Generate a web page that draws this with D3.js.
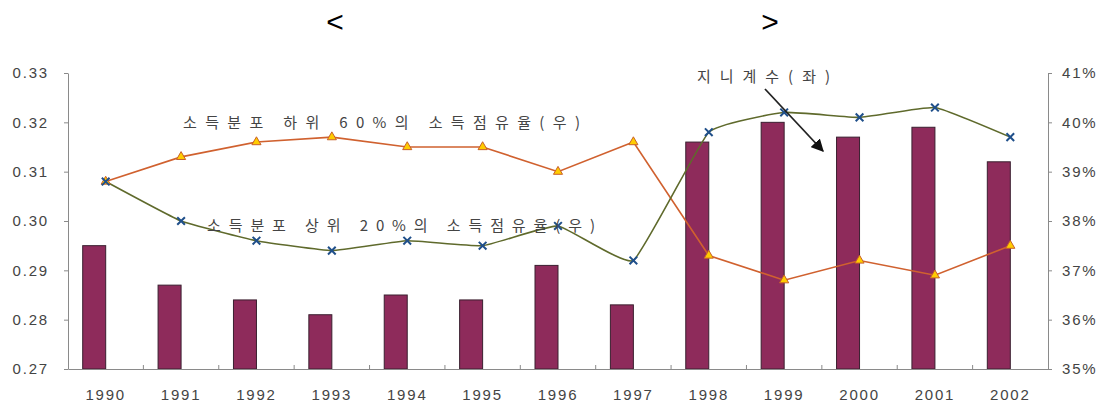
<!DOCTYPE html>
<html>
<head>
  <meta charset="utf-8">
  <script src="https://d3js.org/d3.v7.min.js"></script>
  <style>
    body { margin: 0; background: #fff; }
    .tick text { font-family: "Liberation Sans", Arial, sans-serif; font-size: 15px; fill: #444; letter-spacing: 1.8px; }
    .note { font-family: "Noto Sans CJK KR", sans-serif; font-size: 15px; fill: #444; }
  </style>
</head>
<body>
<svg id="chart"></svg>
<script>
  var width = 1108;
  var height = 403;

  // data
  const years = ["1990", "1991", "1992", "1993", "1994", "1995", "1996",
    "1997", "1998", "1999", "2000", "2001", "2002"];
  const gini = [0.295, 0.287, 0.284, 0.281, 0.285, 0.284, 0.291, 0.283,
    0.316, 0.320, 0.317, 0.319, 0.312];
  const bottom60 = [38.8, 39.3, 39.6, 39.7, 39.5, 39.5, 39.0, 39.6, 37.3, 36.8, 37.2, 36.9, 37.5];
  const top20 = [38.8, 38.0, 37.6, 37.4, 37.6, 37.5, 37.9, 37.2, 39.8, 40.2, 40.1, 40.3, 39.7];
  const leftTicks = [0.27, 0.28, 0.29, 0.30, 0.31, 0.32, 0.33];
  const rightTicks = [35, 36, 37, 38, 39, 40, 41];

  var svg = d3.select("#chart")
    .attr("width", width)
    .attr("height", height);

  var x = d3.scaleBand().domain(years).range([68, 1048]);
  var yL = d3.scaleLinear().domain([0.27, 0.33]).range([369, 73]);
  var yR = d3.scaleLinear().domain([35, 41]).range([369, 73]);
  var cx = d => x(d) + x.bandwidth() / 2;
  var barW = 23;

  // title (only the brackets survived in the original)
  svg.append("text").attr("x", 335).attr("y", 32).attr("text-anchor", "middle")
    .style("font-family", "Liberation Sans, Arial, sans-serif").style("font-size", "30px").text("<");
  svg.append("text").attr("x", 770).attr("y", 32).attr("text-anchor", "middle")
    .style("font-family", "Liberation Sans, Arial, sans-serif").style("font-size", "30px").text(">");

  // bars: gini coefficient, left axis
  svg.selectAll("rect.bar")
    .data(years).enter()
    .append("rect")
    .attr("class", "bar")
    .attr("x", d => cx(d) - barW)
    .attr("y", (d, i) => yL(gini[i]))
    .attr("width", barW)
    .attr("height", (d, i) => yL(0.27) - yL(gini[i]))
    .attr("fill", "#8e2b5b")
    .attr("stroke", "#3a2030")
    .attr("stroke-width", 1);

  // axes
  var axL = svg.append("g").attr("transform", "translate(68,0)")
    .call(d3.axisLeft(yL).tickValues(leftTicks).tickFormat(d3.format(".2f"))
      .tickSize(4).tickSizeOuter(0).tickPadding(15));
  var axR = svg.append("g").attr("transform", "translate(1048,0)")
    .call(d3.axisRight(yR).tickValues(rightTicks).tickFormat(d => d + "%")
      .tickSize(4).tickSizeOuter(0).tickPadding(10));
  var axB = svg.append("g").attr("transform", "translate(0,369)")
    .call(d3.axisBottom(x).tickSize(0).tickSizeOuter(0).tickPadding(20));
  [axL, axR, axB].forEach(a => {
    a.select(".domain").attr("stroke", "#8a8a8a");
    a.selectAll(".tick line").attr("stroke", "#8a8a8a");
  });

  // category boundary ticks on the bottom axis
  svg.selectAll("line.btick")
    .data(years.slice(1)).enter()
    .append("line")
    .attr("x1", d => x(d)).attr("x2", d => x(d))
    .attr("y1", 365).attr("y2", 370)
    .attr("stroke", "#8a8a8a");

  // lines, right axis
  var lineBottom = d3.line()
    .x((d, i) => cx(years[i]))
    .y(d => yR(d));
  var lineTop = d3.line()
    .x((d, i) => cx(years[i]))
    .y(d => yR(d))
    .curve(d3.curveCardinal.tension(0.65));

  svg.append("path").datum(bottom60)
    .attr("d", lineBottom)
    .attr("fill", "none")
    .attr("stroke", "#d0612f")
    .attr("stroke-width", 1.6);

  svg.append("path").datum(top20)
    .attr("d", lineTop)
    .attr("fill", "none")
    .attr("stroke", "#5f6a2c")
    .attr("stroke-width", 1.6);

  // triangle markers
  var tri = d3.symbol().type(d3.symbolTriangle).size(36);
  svg.selectAll("path.tri")
    .data(bottom60).enter()
    .append("path")
    .attr("class", "tri")
    .attr("d", tri)
    .attr("transform", (d, i) => "translate(" + cx(years[i]) + "," + yR(d) + ")")
    .attr("fill", "#ffcc00")
    .attr("stroke", "#c8602a")
    .attr("stroke-width", 1);

  // x markers
  var cross = d3.symbol().type(d3.symbolX).size(40);
  svg.selectAll("path.crs")
    .data(top20).enter()
    .append("path")
    .attr("class", "crs")
    .attr("d", cross)
    .attr("transform", (d, i) => "translate(" + cx(years[i]) + "," + yR(d) + ")")
    .attr("fill", "none")
    .attr("stroke", "#1f4f8a")
    .attr("stroke-width", 2);

  // annotations
  svg.append("text").attr("class", "note")
    .attr("x", 183).attr("y", 128)
    .attr("textLength", 397).attr("lengthAdjust", "spacing")
    .text("소득분포 하위 60%의 소득점유율(우)");
  svg.append("text").attr("class", "note")
    .attr("x", 207).attr("y", 231)
    .attr("textLength", 388).attr("lengthAdjust", "spacing")
    .text("소득분포 상위 20%의 소득점유율(우)");
  svg.append("text").attr("class", "note")
    .attr("x", 697).attr("y", 82)
    .attr("textLength", 133).attr("lengthAdjust", "spacing")
    .text("지니계수(좌)");

  svg.append("defs").append("marker")
    .attr("id", "arrow")
    .attr("viewBox", "0 0 10 10")
    .attr("refX", 9).attr("refY", 5)
    .attr("markerWidth", 7).attr("markerHeight", 7)
    .attr("markerUnits", "strokeWidth")
    .attr("orient", "auto")
    .append("path").attr("d", "M0,0 L10,5 L0,10 z").attr("fill", "#111");

  svg.append("line")
    .attr("x1", 765).attr("y1", 89)
    .attr("x2", 823).attr("y2", 151)
    .attr("stroke", "#222")
    .attr("stroke-width", 1.8)
    .attr("marker-end", "url(#arrow)");
</script>
</body>
</html>
